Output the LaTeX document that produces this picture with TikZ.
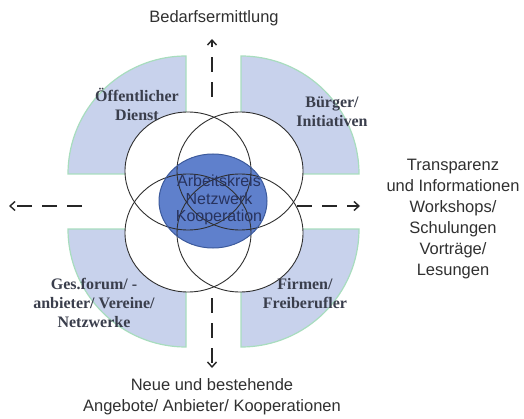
\documentclass[tikz,border=0pt]{standalone}
\usepackage{fontspec}
\setmainfont{Liberation Serif}
\setsansfont{Liberation Sans}
\usetikzlibrary{arrows.meta}
\definecolor{sectorfill}{HTML}{C8D2EC}
\definecolor{sectorline}{HTML}{A8DDBE}
\definecolor{coreblue}{HTML}{5F80CC}
\definecolor{coreline}{HTML}{3C5A9C}
\definecolor{ringline}{HTML}{303030}
\definecolor{labelserif}{HTML}{3A3E4C}
\definecolor{labelsans}{HTML}{303030}
\definecolor{coretext}{HTML}{28335E}

\begin{document}
\begin{tikzpicture}[x=1pt,y=1pt,
  sector/.style={fill=sectorfill, draw=sectorline, line width=1.2pt},
  ring/.style={draw=ringline, line width=0.9pt},
  flow/.style={line width=1.4pt, draw=black!85, dash pattern=on 15pt off 10pt,
    -{Straight Barb[length=5pt,width=9pt]}},
  group/.style={font=\fontsize{16}{19}\selectfont\bfseries, text=labelserif, align=center},
  note/.style={font=\sffamily\fontsize{16.5}{21}\selectfont, text=labelsans, align=center},
  coretxt/.style={font=\sffamily\fontsize{16}{17.5}\selectfont, text=coretext, align=center}]
\useasboundingbox (0,0) rectangle (524,418);

% four quarter discs around the centre
\path[sector] (186,244) -- ++(-118,0) arc[start angle=180, end angle=90, radius=118pt] -- cycle;
\path[sector] (241,244) -- ++(0,118) arc[start angle=90, end angle=0, radius=118pt] -- cycle;
\path[sector] (186,189) -- ++(-118,0) arc[start angle=180, end angle=270, radius=118pt] -- cycle;
\path[sector] (241,189) -- ++(118,0) arc[start angle=0, end angle=-90, radius=118pt] -- cycle;

% overlapping rings (white interiors first, then the core, then outlines)
\foreach \c in {(188,247),(240,247),(188,185),(240,185)}
  \fill[white] \c ellipse[x radius=63pt, y radius=59pt];
\fill[coreblue] (213,217) ellipse[x radius=54pt, y radius=47pt];
\foreach \c in {(188,247),(240,247),(188,185),(240,185)}
  \path[ring] \c ellipse[x radius=63pt, y radius=59pt];
\draw[coreline, line width=1pt] (213,217) ellipse[x radius=54pt, y radius=47pt];

\node[coretxt] (core) at (219,218) {Arbeitskreis\\Netzwerk\\Kooperation};

% group labels
\node[group] (oeff) at (137,314) {Öffentlicher\\Dienst};
\node[group] (buerger) at (332,306) {Bürger/\\Initiativen};
\node[group] (ges) at (94,115) {Ges.forum/ -\\anbieter/ Vereine/\\Netzwerke};
\node[group] (firmen) at (305,124) {Firmen/\\Freiberufler};

% outcome labels
\node[note] (bedarf) at (214,400) {Bedarfsermittlung};
\node[note] (angebote) at (212,21) {Neue und bestehende\\Angebote/ Anbieter/ Kooperationen};
\node[note] (transparenz) at (453,198.5) {Transparenz\\und Informationen\\Workshops/\\Schulungen\\Vorträge/\\Lesungen};

% arrow ends
\coordinate (upS) at (212,321);
\coordinate (upE) at (212,379);
\coordinate (dnS) at (212,120);
\coordinate (dnE) at (212,50);
\coordinate (ltS) at (82,212);
\coordinate (ltE) at (9,212);
\coordinate (rtS) at (297,212);
\coordinate (rtE) at (360,212);

\draw[flow] (upS) -- (upE);
\draw[flow] (dnS) -- (dnE);
\draw[flow] (ltS) -- (ltE);
\draw[flow] (rtS) -- (rtE);
\end{tikzpicture}
\end{document}
